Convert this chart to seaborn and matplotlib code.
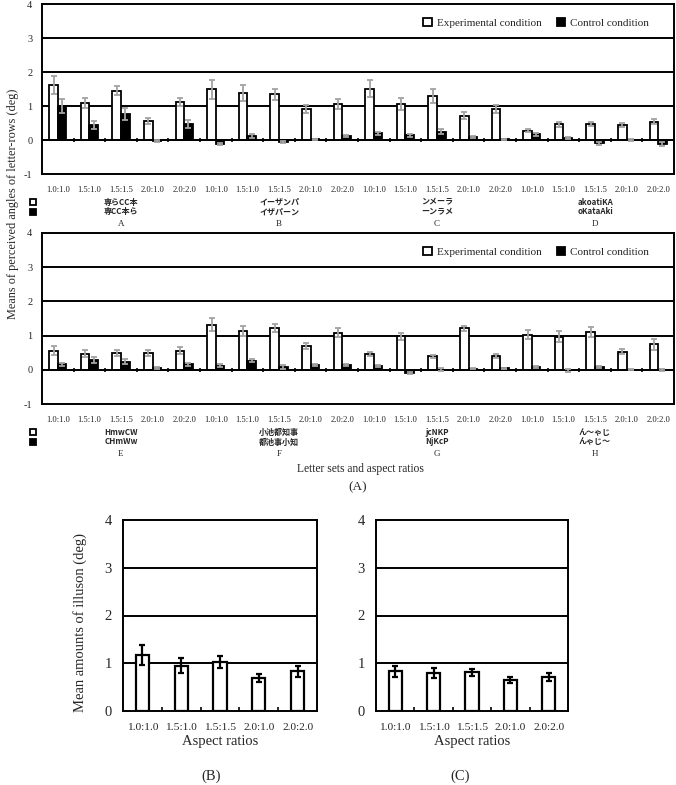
import numpy as np
import pandas as pd
import matplotlib
matplotlib.use('Agg')
import matplotlib.pyplot as plt
import seaborn as sns

# ---- data -------------------------------------------------------------
ratios = ['1.0:1.0', '1.5:1.0', '1.5:1.5', '2.0:1.0', '2.0:2.0']
conditions = ['Experimental condition', 'Control condition']

sets_top = ['A', 'B', 'C', 'D']
sets_bot = ['E', 'F', 'G', 'H']
words_top = [('専らCC本', '専CC本ら'), ('イーザンパ', 'イザパーン'),
             ('ンメーラ', 'ーンラメ'), ('akoatiKA', 'oKataAki')]
words_bot = [('HmwCW', 'CHmWw'), ('小池都知事', '都池事小知'),
             ('jcNKP', 'NjKcP'), ('ん～ゃじ', 'んゃじ～')]

exp_mean_top = [1.62, 1.08, 1.45, 0.56, 1.12, 1.49, 1.39, 1.34, 0.92, 1.07,
                1.51, 1.06, 1.29, 0.71, 0.92, 0.27, 0.46, 0.47, 0.44, 0.54]
exp_err_top = [0.26, 0.15, 0.14, 0.08, 0.13, 0.27, 0.24, 0.16, 0.12, 0.15,
               0.25, 0.17, 0.20, 0.10, 0.12, 0.04, 0.08, 0.06, 0.06, 0.08]
ctrl_mean_top = [1.00, 0.43, 0.77, -0.03, 0.46, -0.12, 0.12, -0.05, 0.02, 0.12,
                 0.20, 0.14, 0.25, 0.08, 0.02, 0.17, 0.05, -0.10, 0.00, -0.13]
ctrl_err_top = [0.20, 0.12, 0.17, 0.03, 0.12, 0.04, 0.05, 0.03, 0.02, 0.04,
                0.05, 0.05, 0.07, 0.03, 0.02, 0.04, 0.03, 0.05, 0.04, 0.06]

exp_mean_bot = [0.56, 0.47, 0.49, 0.49, 0.56, 1.32, 1.13, 1.22, 0.70, 1.09,
                0.46, 0.98, 0.39, 1.21, 0.41, 1.03, 0.97, 1.10, 0.53, 0.74]
exp_err_bot = [0.14, 0.10, 0.10, 0.10, 0.10, 0.20, 0.15, 0.12, 0.08, 0.12,
               0.05, 0.10, 0.05, 0.08, 0.06, 0.13, 0.15, 0.14, 0.08, 0.16]
ctrl_mean_bot = [0.16, 0.29, 0.24, 0.05, 0.16, 0.12, 0.27, 0.08, 0.14, 0.13,
                 0.11, -0.10, 0.00, 0.03, 0.04, 0.07, -0.02, 0.08, 0.00, -0.01]
ctrl_err_bot = [0.05, 0.08, 0.08, 0.03, 0.05, 0.04, 0.05, 0.05, 0.04, 0.03,
                0.03, 0.03, 0.04, 0.02, 0.02, 0.03, 0.03, 0.04, 0.02, 0.02]

b_mean = [1.17, 0.95, 1.03, 0.69, 0.83]
b_err = [0.21, 0.15, 0.13, 0.09, 0.12]
c_mean = [0.83, 0.80, 0.81, 0.65, 0.71]
c_err = [0.11, 0.10, 0.08, 0.07, 0.08]

# ---- style ------------------------------------------------------------
sns.set_style('white')
plt.rcParams['font.family'] = ['Liberation Serif', 'DejaVu Serif']
plt.rcParams['axes.unicode_minus'] = False
CJK = ['Noto Sans CJK JP', 'DejaVu Sans']
LW = 1.4
GREY = '#a3a3a3'


def frame(ax, ymin, ymax):
    for s in ax.spines.values():
        s.set_visible(True)
        s.set_color('black')
        s.set_linewidth(LW)
    for y in range(ymin + 1, ymax):
        ax.axhline(y, color='black', lw=LW, zorder=0)


def letter_panel(ax, sets, words, em, ee, cm, ce):
    keys = [f'{s}|{r}' for s in sets for r in ratios]
    df = pd.DataFrame({
        'key': keys * 2,
        'mean': em + cm,
        'err': ee + ce,
        'condition': [conditions[0]] * len(keys) + [conditions[1]] * len(keys),
    })
    sns.barplot(data=df, x='key', y='mean', hue='condition', order=keys,
                hue_order=conditions, palette={conditions[0]: 'white', conditions[1]: 'black'},
                edgecolor='black', linewidth=1.3, width=0.54, saturation=1,
                errorbar=None, ax=ax)
    handles, labels = ax.get_legend_handles_labels()
    ax.legend(handles, labels, loc='center right', bbox_to_anchor=(0.968, 0.888),
              ncol=2, frameon=False, fontsize=8, handlelength=0.75, handleheight=0.75,
              handletextpad=0.5, columnspacing=1.3, borderaxespad=0)
    for cont, cond in zip(ax.containers, conditions):
        sub = df[df['condition'] == cond]
        xs = [p.get_x() + p.get_width() / 2 for p in cont]
        ax.errorbar(xs, sub['mean'], yerr=sub['err'], fmt='none', ecolor=GREY,
                    elinewidth=1.3, capsize=2, capthick=1.3, zorder=4)

    frame(ax, -1, 4)
    ax.axhline(0, color='black', lw=LW, zorder=3)
    n = len(keys)
    ax.plot(np.arange(n - 1) + 0.5, np.zeros(n - 1), ls='none', marker='|',
            ms=3, mew=1.2, color='black', zorder=3)

    ax.set_xlim(-0.5, n - 0.5)
    ax.set_ylim(-1, 4)
    ax.set_yticks(range(-1, 5))
    ax.set_xticks(range(n))
    ax.set_xticklabels(ratios * len(sets))
    ax.tick_params(axis='x', length=0, pad=9, labelsize=6.2)
    ax.tick_params(axis='y', length=0, pad=7, labelsize=7.5)
    ax.set_xlabel('')
    ax.set_ylabel('')

    tr = ax.get_xaxis_transform()
    for i, (s, (w1, w2)) in enumerate(zip(sets, words)):
        xc = i * len(ratios) + (len(ratios) - 1) / 2
        ax.text(xc, -0.165, w1, transform=tr, ha='center', va='center',
                fontsize=5.8, fontweight='bold', family=CJK)
        ax.text(xc, -0.222, w2, transform=tr, ha='center', va='center',
                fontsize=5.8, fontweight='bold', family=CJK)
        ax.text(xc, -0.294, s, transform=tr, ha='center', va='center', fontsize=6.5)
    ax.plot([-0.0145], [-0.165], transform=ax.transAxes, marker='s', ms=4.5,
            mfc='white', mec='black', mew=1.3, clip_on=False)
    ax.plot([-0.0145], [-0.222], transform=ax.transAxes, marker='s', ms=4.5,
            mfc='black', mec='black', mew=1.3, clip_on=False)


def ratio_panel(ax, mean, err):
    sns.barplot(x=ratios, y=mean, color='white', edgecolor='black', linewidth=1.6,
                width=0.34, saturation=1, errorbar=None, ax=ax)
    xs = [p.get_x() + p.get_width() / 2 for p in ax.patches]
    ax.errorbar(xs, mean, yerr=err, fmt='none', ecolor='black', elinewidth=1.6,
                capsize=2.5, capthick=1.6, zorder=4)
    frame(ax, 0, 4)
    n = len(ratios)
    ax.set_xlim(-0.5, n - 0.5)
    ax.set_ylim(0, 4)
    ax.set_yticks(range(0, 5))
    ax.set_xticks(np.arange(n - 1) + 0.5, minor=True)
    ax.tick_params(axis='x', which='major', length=0, pad=8.5, labelsize=8.2)
    ax.tick_params(axis='x', which='minor', direction='in', length=3, width=1.2,
                   bottom=True, color='black')
    ax.tick_params(axis='y', length=0, pad=8, labelsize=10.5)
    ax.set_xlabel('Aspect ratios', fontsize=10.5, labelpad=2)


W, H = 676, 785
fig = plt.figure(figsize=(W / 100, H / 100), dpi=100)

ax1 = fig.add_axes([42 / W, 1 - 174 / H, 632 / W, 170 / H])
ax2 = fig.add_axes([42 / W, 1 - 404 / H, 632 / W, 171 / H])
ax3 = fig.add_axes([123 / W, 1 - 711 / H, 194 / W, 191 / H])
ax4 = fig.add_axes([376 / W, 1 - 711 / H, 192 / W, 191 / H])

letter_panel(ax1, sets_top, words_top, exp_mean_top, exp_err_top, ctrl_mean_top, ctrl_err_top)
letter_panel(ax2, sets_bot, words_bot, exp_mean_bot, exp_err_bot, ctrl_mean_bot, ctrl_err_bot)
ratio_panel(ax3, b_mean, b_err)
ratio_panel(ax4, c_mean, c_err)

fig.text(13 / W, 1 - 204 / H, 'Means of perceived angles of letter-rows (deg)',
         rotation=90, ha='center', va='center', fontsize=8.8)
fig.text(360 / W, 1 - 469 / H, 'Letter sets and aspect ratios',
         ha='center', va='center', fontsize=8.3)
fig.text(358 / W, 1 - 487 / H, '(A)', ha='center', va='center', fontsize=9.5)
fig.text(80 / W, 1 - 622 / H, 'Mean amounts of illuson (deg)',
         rotation=90, ha='center', va='center', fontsize=10.5)
fig.text(211 / W, 1 - 776 / H, '(B)', ha='center', va='center', fontsize=10.5)
fig.text(460 / W, 1 - 776 / H, '(C)', ha='center', va='center', fontsize=10.5)

fig.savefig('out.png', dpi=100, facecolor='white')
